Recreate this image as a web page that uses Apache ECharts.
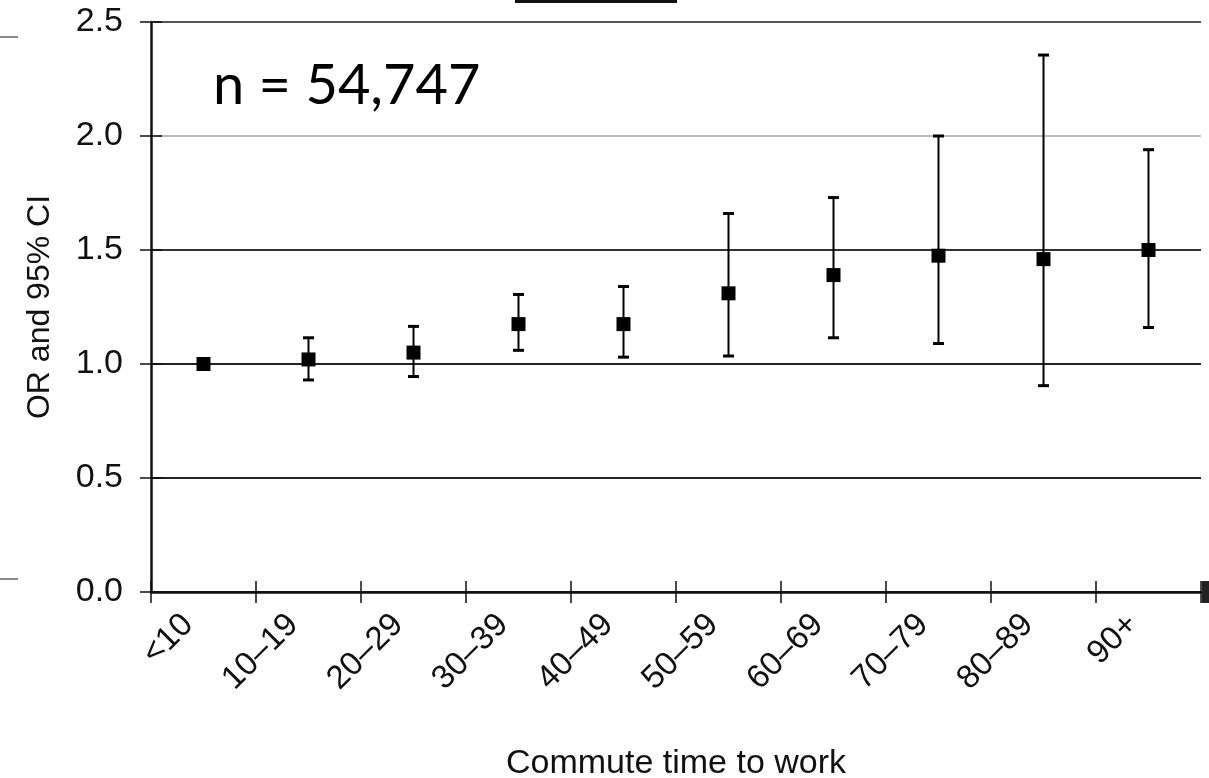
<!DOCTYPE html>
<html>
  <head>
    <meta charset="utf-8">
    <title>Commute time OR</title>
    <script src="https://cdn.jsdelivr.net/npm/echarts@6/dist/echarts.min.js"></script>
    <style>
      html, body { margin: 0; padding: 0; background: #fff; }
      #main { width: 1209px; height: 778px; }
    </style>
  </head>
  <body>
    <div id="main"></div>
    <script type="text/javascript">
      // categories and values
      var categories = ['<10', '10–19', '20–29', '30–39', '40–49', '50–59', '60–69', '70–79', '80–89', '90+'];
      var oddsRatio = [1.00, 1.02, 1.05, 1.175, 1.175, 1.31, 1.39, 1.475, 1.46, 1.50];
      var ciLow = [null, 0.93, 0.945, 1.06, 1.03, 1.035, 1.115, 1.09, 0.905, 1.16];
      var ciHigh = [null, 1.115, 1.165, 1.305, 1.34, 1.66, 1.73, 2.00, 2.355, 1.94];

      var errData = [];
      for (var i = 0; i < categories.length; i++) {
        if (ciLow[i] != null) errData.push([i, ciLow[i], ciHigh[i]]);
      }

      var font = '"Liberation Sans", Arial, sans-serif';
      var myChart = echarts.init(document.getElementById('main'));
      var option = {
        animation: false,
        backgroundColor: '#fff',
        grid: { left: 151, right: 8, top: 22, bottom: 186, outerBoundsMode: 'none', containLabel: false },
        xAxis: [
          {
            type: 'category',
            position: 'bottom',
            data: categories,
            boundaryGap: true,
            axisLine: { lineStyle: { color: '#111', width: 2.5 } },
            axisTick: { show: true, length: 11, lineStyle: { color: '#111', width: 1.5 } },
            axisLabel: {
              rotate: 45, margin: 12, color: '#111',
              fontFamily: font, fontSize: 33,
              padding: [0, 22, 0, 0]
            },
            name: 'Commute time to work',
            nameLocation: 'middle',
            nameGap: 155,
            nameTextStyle: { color: '#111', fontFamily: font, fontSize: 34 }
          },
          {
            // inner half of the crossing ticks
            type: 'category',
            position: 'bottom',
            data: categories,
            axisLine: { show: false },
            axisTick: { show: true, inside: true, length: 11, lineStyle: { color: '#111', width: 1.5 } },
            axisLabel: { show: false }
          }
        ],
        yAxis: [
          {
            type: 'value',
            position: 'left',
            min: 0, max: 2.5, interval: 0.5,
            axisLine: { show: true, lineStyle: { color: '#111', width: 2.5 } },
            axisTick: { show: true, length: 11, lineStyle: { color: '#111', width: 1.5 } },
            axisLabel: {
              margin: 28, color: '#111', fontFamily: font, fontSize: 34,
              formatter: function (v) { return v.toFixed(1); }
            },
            splitLine: {
              show: true,
              lineStyle: { color: ['#222', '#222', '#222', '#333', '#bbb', '#555'], width: 2 }
            },
            name: 'OR and 95% CI',
            nameLocation: 'middle',
            nameGap: 95,
            nameTextStyle: { color: '#111', fontFamily: font, fontSize: 32 }
          },
          {
            type: 'value',
            position: 'left',
            min: 0, max: 2.5, interval: 0.5,
            axisLine: { show: false },
            axisTick: { show: true, inside: true, length: 11, lineStyle: { color: '#111', width: 1.5 } },
            axisLabel: { show: false },
            splitLine: { show: false }
          }
        ],
        graphic: [
          {
            type: 'text', left: 213, top: 58,
            style: { text: 'n = 54,747', font: '56px Lato, "Open Sans", sans-serif', fill: '#000' }
          },
          { type: 'rect', shape: { x: 515, y: 0, width: 162, height: 3 }, style: { fill: '#111' } },
          { type: 'rect', shape: { x: 0, y: 36, width: 18, height: 2 }, style: { fill: '#888' } },
          { type: 'rect', shape: { x: 0, y: 578, width: 18, height: 2 }, style: { fill: '#888' } },
          { type: 'rect', shape: { x: 1202, y: 581, width: 7, height: 22 }, style: { fill: '#222' } }
        ],
        series: [
          {
            type: 'custom',
            xAxisIndex: 0, yAxisIndex: 0,
            data: errData,
            z: 3,
            renderItem: function (params, api) {
              var x = api.value(0);
              var lo = api.coord([x, api.value(1)]);
              var hi = api.coord([x, api.value(2)]);
              var hw = 5.5;
              var st = { stroke: '#000', lineWidth: 2 };
              return {
                type: 'group',
                children: [
                  { type: 'line', shape: { x1: lo[0], y1: lo[1], x2: hi[0], y2: hi[1] }, style: st },
                  { type: 'line', shape: { x1: hi[0] - hw, y1: hi[1], x2: hi[0] + hw, y2: hi[1] }, style: { stroke: '#000', lineWidth: 3 } },
                  { type: 'line', shape: { x1: lo[0] - hw, y1: lo[1], x2: lo[0] + hw, y2: lo[1] }, style: { stroke: '#000', lineWidth: 3 } }
                ]
              };
            }
          },
          {
            type: 'scatter',
            xAxisIndex: 0, yAxisIndex: 0,
            data: oddsRatio,
            symbol: 'rect',
            symbolSize: 14,
            z: 4,
            itemStyle: { color: '#000', opacity: 1 }
          }
        ]
      };
      myChart.setOption(option);
    </script>
  </body>
</html>
